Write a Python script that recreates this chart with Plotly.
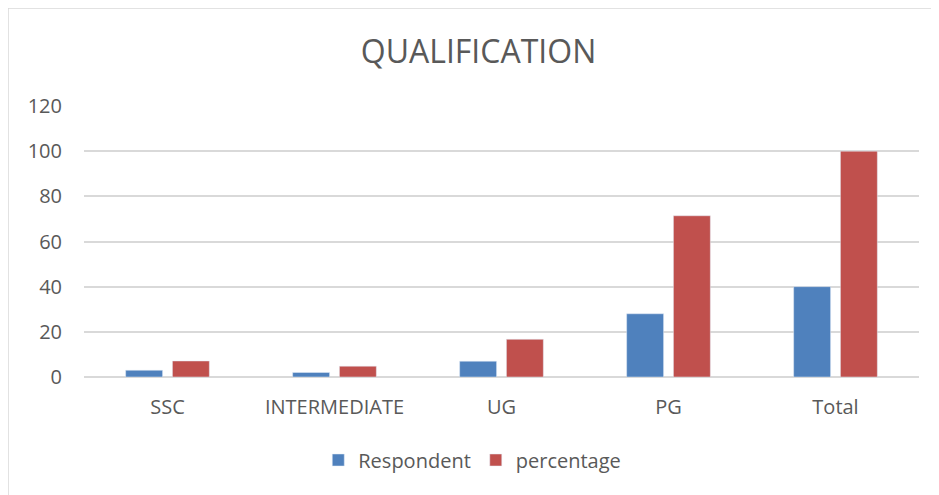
import plotly.graph_objects as go

categories = ["SSC", "INTERMEDIATE", "UG", "PG", "Total"]
respondent = [3, 2, 7, 28, 40]
percentage = [7.1, 4.8, 16.7, 71.4, 100]
y_ticks = [0, 20, 40, 60, 80, 100, 120]

FONT = "Open Sans"
GREY = "#595959"

fig = go.Figure()
fig.add_trace(go.Bar(name="Respondent", x=categories, y=respondent, marker_color="#4F81BD"))
fig.add_trace(go.Bar(name="percentage", x=categories, y=percentage, marker_color="#C0504D"))

# page body has an 8px default margin, so the figure is sized to fit after it
OFF = 8
PAGE_W, PAGE_H = 939, 495
W, H = PAGE_W - OFF, PAGE_H - OFF
L, R, T, B = 84 - OFF, 20, 106 - OFF, 118
pw, ph = W - L - R, H - T - B

def px_x(p):  # page pixel -> paper x
    return (p - OFF - L) / pw

def px_y(p):  # page pixel -> paper y
    return (H - B - (p - OFF)) / ph

fig.update_layout(
    width=W, height=H,
    margin=dict(l=L, r=R, t=T, b=B),
    paper_bgcolor="white", plot_bgcolor="white",
    barmode="group", bargap=0.44, bargroupgap=0.21,
    title=dict(text="QUALIFICATION", x=(478.5 - OFF) / W, xanchor="center",
               y=1 - (52 - OFF) / H, yanchor="middle",
               font=dict(family=FONT, size=32, color=GREY)),
    font=dict(family=FONT, size=20, color=GREY),
    showlegend=True,
    legend=dict(orientation="h", x=0.465, xanchor="center", y=px_y(460), yanchor="middle",
                font=dict(family=FONT, size=20, color=GREY), traceorder="normal"),
    xaxis=dict(showgrid=False, ticks="", showline=False, tickfont=dict(size=20, color=GREY),
               ticklabelstandoff=16),
    yaxis=dict(range=[0, 120], tickvals=y_ticks, showgrid=True, gridcolor="#d9d9d9", gridwidth=1.5,
               zeroline=True, zerolinecolor="#d9d9d9", zerolinewidth=1.5, showline=False,
               tickfont=dict(size=20, color=GREY), ticklabelstandoff=21),
    shapes=[
        dict(type="line", xref="paper", yref="paper", x0=px_x(8), x1=px_x(PAGE_W + 5),
             y0=px_y(8), y1=px_y(8), line=dict(color="#d9d9d9", width=1.5)),
        dict(type="line", xref="paper", yref="paper", x0=px_x(8), x1=px_x(8),
             y0=px_y(8), y1=px_y(PAGE_H + 5), line=dict(color="#d9d9d9", width=1.5)),
    ],
)

fig.write_html("out.html")
